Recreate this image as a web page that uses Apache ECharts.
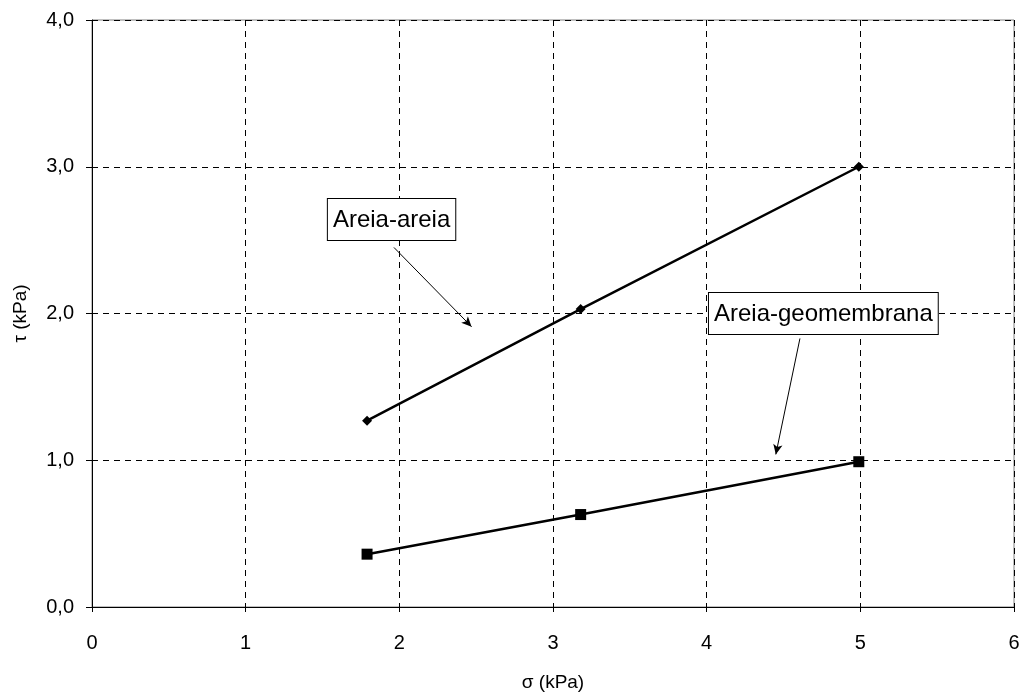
<!DOCTYPE html>
<html>
<head>
<meta charset="utf-8">
<script src="https://cdn.jsdelivr.net/npm/echarts@6/dist/echarts.min.js"></script>
<style>html,body{margin:0;padding:0;background:#fff}#c{width:1023px;height:697px}</style>
</head>
<body>
<div id="c"></div>
<script>
const areiaAreiaX = [1.79, 3.18, 4.99];
const areiaAreiaY = [1.27, 2.03, 3.00];
const areiaGeoX = [1.79, 3.18, 4.99];
const areiaGeoY = [0.36, 0.63, 0.99];
const xTicks = [0, 1, 2, 3, 4, 5, 6];
const yTicks = ['0,0', '1,0', '2,0', '3,0', '4,0'];
const labelAreia = 'Areia-areia';
const labelGeo = 'Areia-geomembrana';
// annotation anchors in data units
const labelAreiaPos = [1.535, 2.78];
const arrowAreia = [[1.965, 2.45], [2.47, 1.91]];
const labelGeoPos = [4.015, 2.14];
const arrowGeo = [[4.607, 1.83], [4.45, 1.04]];

const font = 'Liberation Sans, Arial, sans-serif';
const chart = echarts.init(document.getElementById('c'));
const zip = (xs, ys) => xs.map((x, i) => [x, ys[i]]);

const option = {
  animation: false,
  backgroundColor: '#fff',
  grid: { left: 92, right: 9, top: 20, bottom: 90, containLabel: false, outerBoundsMode: 'none',
    show: true, borderColor: '#808080', borderWidth: 1 },
  xAxis: {
    type: 'value', min: 0, max: 6, interval: 1,
    name: 'σ (kPa)', nameLocation: 'middle', nameGap: 66,
    nameTextStyle: { fontFamily: font, fontSize: 19, color: '#000' },
    axisLine: { show: true, lineStyle: { color: '#000', width: 1 } },
    axisTick: { show: true, length: 5, lineStyle: { color: '#000' } },
    axisLabel: { fontFamily: font, fontSize: 20, color: '#000', margin: 26,
      formatter: v => String(xTicks[Math.round(v)]) },
    splitLine: { show: true, lineStyle: { color: '#000', type: [6, 5], width: 1 } }
  },
  yAxis: {
    type: 'value', min: 0, max: 4, interval: 1,
    name: 'τ (kPa)', nameLocation: 'middle', nameGap: 62,
    nameTextStyle: { fontFamily: font, fontSize: 19, color: '#000' },
    axisLine: { show: true, lineStyle: { color: '#000', width: 1 } },
    axisTick: { show: true, length: 6, lineStyle: { color: '#000' } },
    axisLabel: { fontFamily: font, fontSize: 20, color: '#000', margin: 18,
      formatter: v => yTicks[Math.round(v)] },
    splitLine: { show: true, lineStyle: { color: '#000', type: [6, 5], width: 1 } }
  },
  series: [
    {
      name: labelAreia, type: 'line', data: zip(areiaAreiaX, areiaAreiaY),
      symbol: 'diamond', symbolSize: 10,
      lineStyle: { color: '#000', width: 2.5 }, itemStyle: { color: '#000' },
      markLine: {
        silent: true, symbol: ['none', 'arrow'], symbolSize: [7, 10],
        lineStyle: { color: '#000', width: 1, type: 'solid' }, label: { show: false },
        data: [[{ coord: arrowAreia[0] }, { coord: arrowAreia[1] }],
               [{ coord: arrowGeo[0] }, { coord: arrowGeo[1] }]]
      }
    },
    {
      name: labelGeo, type: 'line', data: zip(areiaGeoX, areiaGeoY),
      symbol: 'rect', symbolSize: 11,
      lineStyle: { color: '#000', width: 2.5 }, itemStyle: { color: '#000' }
    }
  ]
};
chart.setOption(option);

function box(text, pos) {
  const p = chart.convertToPixel({ gridIndex: 0 }, pos);
  return {
    type: 'text', x: p[0], y: p[1], z: 100,
    style: {
      text: text, fontFamily: font, fontSize: 24, fill: '#000',
      backgroundColor: '#fff', borderColor: '#000', borderWidth: 1,
      padding: [9, 5, 8, 5]
    }
  };
}
chart.setOption({ graphic: [box(labelAreia, labelAreiaPos), box(labelGeo, labelGeoPos)] });
</script>
</body>
</html>
